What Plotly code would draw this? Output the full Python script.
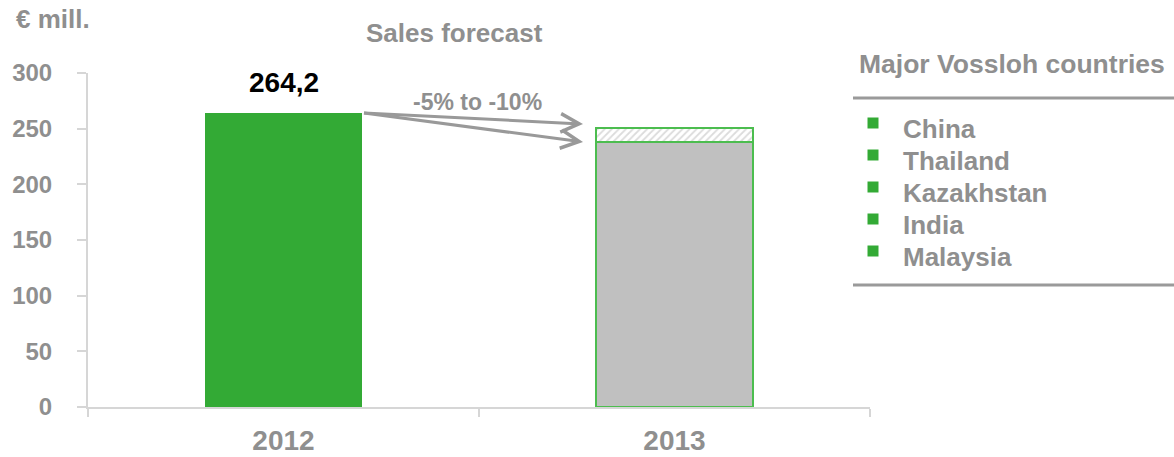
import plotly.graph_objects as go

years = ["2012", "2013"]
sales_2012 = 264.2
forecast_low_2013 = 238.0   # -10 %
forecast_high_2013 = 251.0  # -5 %
value_label = "264,2"
range_label = "-5% to -10%"
countries = ["China", "Thailand", "Kazakhstan", "India", "Malaysia"]
y_ticks = [0, 50, 100, 150, 200, 250, 300]

GREEN = "#33aa35"
GREEN_LINE = "#4cbd4f"
GRAY_TXT = "#8f8f8f"
GRAY_BAR = "#c0c0c0"
AXIS = "#d6d6d6"
FONT = "Liberation Sans, Arial, sans-serif"
BW = 0.404

fig = go.Figure()
fig.add_trace(go.Bar(x=[years[0]], y=[sales_2012], width=BW,
                     marker=dict(color=GREEN, line=dict(width=0)),
                     hoverinfo="skip", showlegend=False))
fig.add_trace(go.Bar(x=[years[1]], y=[forecast_low_2013], width=BW,
                     marker=dict(color=GRAY_BAR, line=dict(color=GREEN_LINE, width=2)),
                     hoverinfo="skip", showlegend=False))
fig.add_trace(go.Bar(x=[years[1]], y=[forecast_high_2013 - forecast_low_2013], width=BW,
                     marker=dict(color="white", line=dict(color=GREEN_LINE, width=2),
                                 pattern=dict(shape="/", fgcolor="#b8b8b8", bgcolor="white",
                                              size=5, solidity=0.35)),
                     hoverinfo="skip", showlegend=False))

ann = []
tail_x = BW / 2
head_x = 0.766
for target in [forecast_high_2013 + 3.2, forecast_low_2013]:
    ann.append(dict(x=head_x, y=target, ax=tail_x, ay=sales_2012, xref="x", yref="y",
                    axref="x", ayref="y", text="", showarrow=True, arrowhead=5,
                    arrowsize=1.2, arrowwidth=3, arrowcolor="#999999",
                    standoff=0, startstandoff=0))
ann.append(dict(x=0, y=sales_2012, xref="x", yref="y", text=value_label, showarrow=False,
                xanchor="center", yanchor="bottom", yshift=13,
                font=dict(family=FONT, size=28, color="black", weight=700)))
ann.append(dict(x=0.497, y=274, xref="x", yref="y", text=range_label, showarrow=False,
                xanchor="center", yanchor="middle",
                font=dict(family=FONT, size=23, color=GRAY_TXT, weight=700)))

def px(x):
    return (x - 88) / 782

def py(y):
    return (407 - y) / 334

ann.append(dict(x=px(454), y=py(33), xref="paper", yref="paper", text="Sales forecast", showarrow=False,
                xanchor="center", yanchor="middle",
                font=dict(family=FONT, size=26, color=GRAY_TXT, weight=700)))
ann.append(dict(x=px(14), y=py(19), xref="paper", yref="paper", text="€ mill.",
                xanchor="left", yanchor="middle", showarrow=False,
                font=dict(family=FONT, size=26, color=GRAY_TXT, weight=700)))
ann.append(dict(x=px(857), y=py(64), xref="paper", yref="paper", text="Major Vossloh countries",
                xanchor="left", yanchor="middle", showarrow=False,
                font=dict(family=FONT, size=26.5, color=GRAY_TXT, weight=700)))
shapes = [
    dict(type="line", xref="paper", yref="paper", x0=px(853), x1=px(1176), y0=py(98), y1=py(98),
         line=dict(color="#9a9a9a", width=3)),
    dict(type="line", xref="paper", yref="paper", x0=px(853), x1=px(1176), y0=py(285), y1=py(285),
         line=dict(color="#9a9a9a", width=3)),
]
for i, c in enumerate(countries):
    cy = 129 + 32 * i
    ann.append(dict(x=px(901), y=py(cy), xref="paper", yref="paper", text=c,
                    xanchor="left", yanchor="middle",
                    showarrow=False, font=dict(family=FONT, size=26, color=GRAY_TXT, weight=700)))
    shapes.append(dict(type="rect", xref="paper", yref="paper", x0=px(867.5), x1=px(878.5),
                       y0=py(cy - 0.5), y1=py(cy - 11.5), fillcolor=GREEN, line=dict(width=0)))

fig.update_layout(
    width=1174, height=457,
    margin=dict(l=88, r=304, t=73, b=50, autoexpand=False),
    paper_bgcolor="white", plot_bgcolor="white",
    barmode="stack", bargap=0,
    annotations=ann, shapes=shapes,
    font=dict(family=FONT),
    xaxis=dict(type="category", range=[-0.5, 1.5], showline=True, linecolor=AXIS, linewidth=2,
               ticks="outside", tickson="boundaries", ticklen=8, tickcolor=AXIS, tickwidth=2,
               showgrid=False, zeroline=False, ticklabelstandoff=7, automargin=False,
               tickfont=dict(family=FONT, size=28, color=GRAY_TXT, weight=700)),
    yaxis=dict(range=[0, 300], tickvals=y_ticks, showline=True, linecolor=AXIS, linewidth=2,
               ticks="outside", ticklen=9, tickcolor=AXIS, tickwidth=2, showgrid=False,
               zeroline=False, ticklabelstandoff=20, automargin=False,
               tickfont=dict(family=FONT, size=24, color=GRAY_TXT, weight=700)),
)
fig.write_html("out.html")
